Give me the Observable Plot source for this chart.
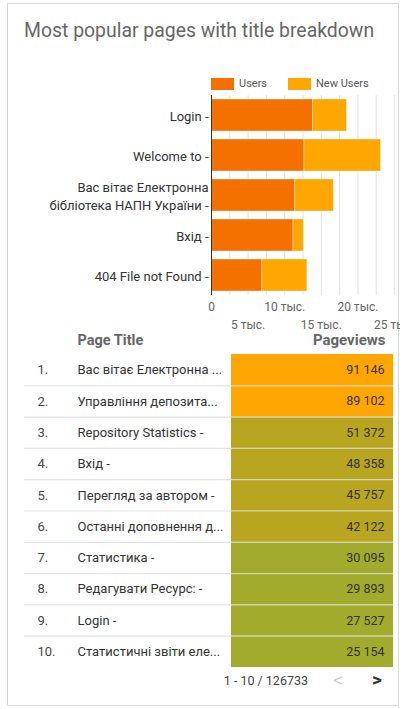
<!DOCTYPE html>
<html>
<head>
<meta charset="utf-8">
<script src="https://cdn.jsdelivr.net/npm/d3@7"></script>
<script src="https://cdn.jsdelivr.net/npm/@observablehq/plot@0.6"></script>
<style>
  html, body { margin: 0; padding: 0; background: #fff; }
  body { width: 406px; height: 709px; position: relative; overflow: hidden; font-family: Roboto, "Noto Sans", sans-serif; }
  #card { position: absolute; left: 7px; top: 3px; width: 392px; height: 703px; border: 1px solid #d9d9d9; box-sizing: border-box; }
  #title { position: absolute; left: 24px; top: 19px; font-size: 19.4px; color: #666; white-space: nowrap; }
  .abs { position: absolute; }
  .leg { position: absolute; font-size: 11px; color: #555; line-height: 12px; }
  .sw { position: absolute; width: 23px; height: 12px; }
  #pager { position: absolute; right: 98px; top: 673px; font-size: 12.5px; color: #444; }
  #prev { position: absolute; left: 333px; top: 668px; font-size: 20px; color: #c4c4c4; font-weight: 300; }
  #next { position: absolute; left: 372px; top: 668px; font-size: 19px; color: #333; font-weight: bold; }
</style>
</head>
<body>
<div id="card"></div>
<div id="title">Most popular pages with title breakdown</div>
<div id="legend"></div>
<div id="chart" class="abs" style="left:0;top:0;"></div>
<div id="table" class="abs" style="left:0;top:330px;"></div>
<div id="pager">1 - 10 / 126733</div>
<div id="prev">&lt;</div>
<div id="next">&gt;</div>
<script>
// ---- Bar chart data ----
const barPages = ["Login -", "Welcome to -", "Вас вітає Електронна\nбібліотека НАПН України -", "Вхід -", "404 File not Found -"];
const usersValues = [13900, 12700, 11450, 11200, 6950];
const newUsersValues = [4600, 10450, 5250, 1400, 6150];
const seriesNames = ["Users", "New Users"];
const seriesColors = ["#f47100", "#ffa600"];
const gridTicks = [0, 2500, 5000, 7500, 10000, 12500, 15000, 17500, 20000, 22500, 25000];
const tickRow1 = [0, 10000, 20000];
const tickRow2 = [5000, 15000, 25000];

// ---- Table data ----
const ranks = [1, 2, 3, 4, 5, 6, 7, 8, 9, 10];
const tableTitles = ["Вас вітає Електронна ...", "Управління депозита...", "Repository Statistics -", "Вхід -", "Перегляд за автором -", "Останні доповнення д...", "Статистика -", "Редагувати Ресурс: -", "Login -", "Статистичні звіти еле..."];
const pageviews = [91146, 89102, 51372, 48358, 45757, 42122, 30095, 29893, 27527, 25154];
const colorThresholds = [35000, 60000];
const colorRange = ["#a2ab2c", "#b8a520", "#ffa600"];

// Legend (HTML)
const legend = document.getElementById("legend");
const legPos = [211, 288];
seriesNames.forEach((s, i) => {
  const sw = document.createElement("div");
  sw.className = "sw";
  sw.style.left = legPos[i] + "px"; sw.style.top = "78px"; sw.style.background = seriesColors[i];
  legend.appendChild(sw);
  const t = document.createElement("div");
  t.className = "leg";
  t.style.left = (legPos[i] + 28) + "px"; t.style.top = "78px";
  t.textContent = s;
  legend.appendChild(t);
});

const long = [];
barPages.forEach((p, i) => {
  long.push({page: p, series: seriesNames[0], value: usersValues[i]});
  long.push({page: p, series: seriesNames[1], value: newUsersValues[i]});
});

const fmtTick = d => d === 0 ? "0" : (d / 1000) + " тыс.";

const chart = Plot.plot({
  width: 400,
  height: 340,
  marginTop: 95,
  marginBottom: 45,
  marginLeft: 211,
  marginRight: 6,
  style: {fontFamily: "Roboto, 'Noto Sans', sans-serif", background: "transparent"},
  x: {domain: [0, 25000], label: null},
  y: {domain: barPages, paddingInner: 0.2, paddingOuter: 0.1, label: null},
  color: {domain: seriesNames, range: seriesColors},
  marks: [
    Plot.gridX(gridTicks, {stroke: "#e3e3e3", strokeOpacity: 1}),
    Plot.barX(long, {x: "value", y: "page", fill: "series", stroke: "#fff", strokeWidth: 0.6, strokeOpacity: 0.6}),
    Plot.ruleX([0], {stroke: "#333"}),
    Plot.axisY({tickSize: 0, tickPadding: 3, fontSize: 13, fill: "#333", lineHeight: 1.4, label: null}),
    Plot.axisX(tickRow1, {tickSize: 0, tickPadding: 7, fontSize: 12, fill: "#666", tickFormat: fmtTick, label: null}),
    Plot.axisX(tickRow2, {tickSize: 0, tickPadding: 25, fontSize: 12, fill: "#666", tickFormat: fmtTick, label: null})
  ]
});
document.getElementById("chart").appendChild(chart);

// ---- Table ----
const rows = ranks.map((r, i) => ({rank: r, title: tableTitles[i], pv: pageviews[i]}));
const fmtNum = v => d3.format(",")(v).replace(/,/g, " ");

const table = Plot.plot({
  width: 406,
  height: 350,
  marginTop: 24,
  marginBottom: 13,
  marginLeft: 24,
  marginRight: 13,
  style: {fontFamily: "Roboto, 'Noto Sans', sans-serif", background: "transparent"},
  y: {domain: [0.5, 10.5], reverse: true, axis: null},
  color: {type: "threshold", domain: colorThresholds, range: colorRange},
  marks: [
    Plot.rect(rows, {y1: d => d.rank - 0.5, y2: d => d.rank + 0.5, fill: "pv", insetLeft: 207}),
    Plot.ruleY(rows.filter(d => d.rank < 10), {y: d => d.rank + 0.5, stroke: "#ddd", strokeOpacity: 0.8, strokeWidth: 1.2}),
    Plot.text(rows, {y: "rank", text: d => d.rank + ".", frameAnchor: "left", dx: 13, textAnchor: "start", fontSize: 13, fill: "#444"}),
    Plot.text(rows, {y: "rank", text: "title", frameAnchor: "left", dx: 53, textAnchor: "start", fontSize: 13, fill: "#333"}),
    Plot.text(rows, {y: "rank", text: d => fmtNum(d.pv), frameAnchor: "right", dx: -9, textAnchor: "end", fontSize: 12.5, fill: "#333"}),
    Plot.text(["Page Title"], {frameAnchor: "top-left", dx: 53, dy: -14, lineAnchor: "middle", textAnchor: "start", fontSize: 14.5, fontWeight: "bold", fill: "#666"}),
    Plot.text(["Pageviews"], {frameAnchor: "top-right", dx: -8, dy: -14, lineAnchor: "middle", textAnchor: "end", fontSize: 15, fontWeight: "bold", fill: "#666"})
  ]
});
document.getElementById("table").appendChild(table);
</script>
</body>
</html>
